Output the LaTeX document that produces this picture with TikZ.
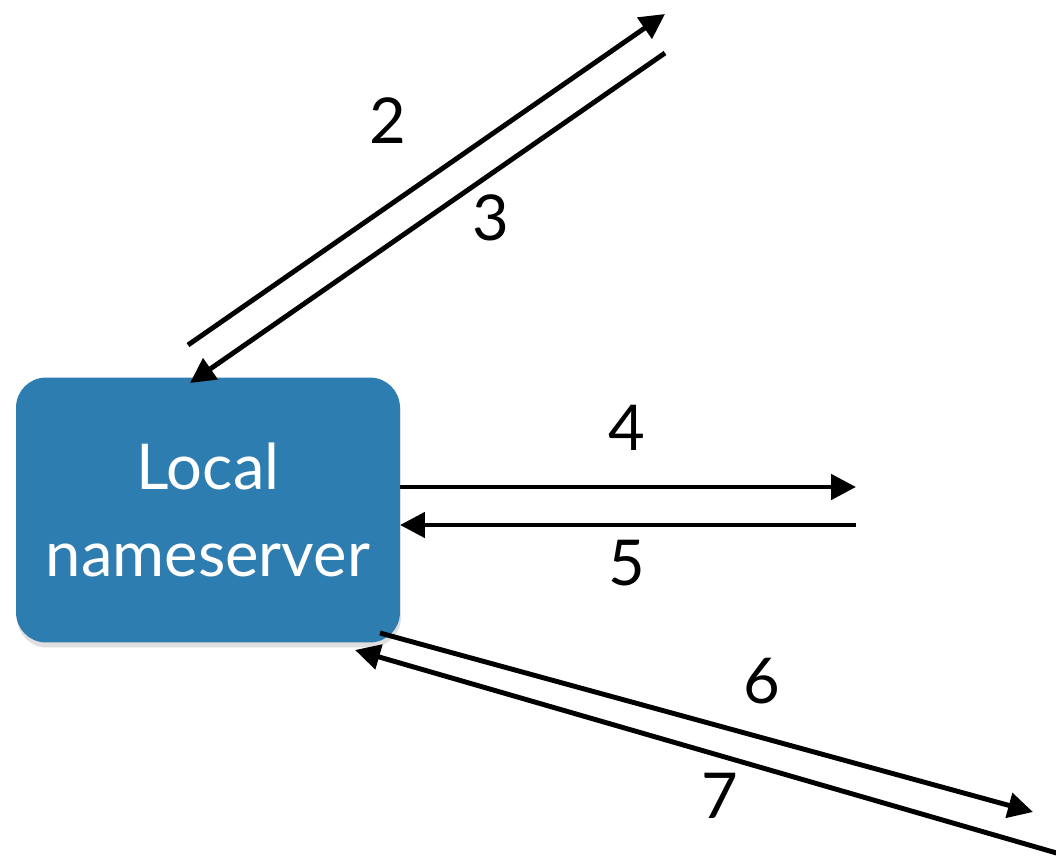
\documentclass[tikz,border=0pt]{standalone}
\usepackage{fontspec}
\setmainfont{Lato}
\usetikzlibrary{arrows.meta,positioning,shadows}
\definecolor{nsblue}{RGB}{46,125,176}

\begin{document}
\begin{tikzpicture}[x=0.02cm,y=-0.02cm]
  \tikzset{
    server/.style={rectangle, rounded corners=0.6cm, fill=nsblue, text=white,
      minimum width=7.68cm, minimum height=5.3cm, align=center,
      font=\fontsize{36}{49.5}\selectfont,
      drop shadow={shadow xshift=0.02cm, shadow yshift=-0.1cm, opacity=0.25}},
    msg/.style={line width=2.8pt, -{Triangle[length=0.5cm,width=0.5cm]}},
    num/.style={inner sep=0pt, font=\fontsize{36}{40}\selectfont},
  }

  % Fixed bounding box
  \path[use as bounding box] (0,0) rectangle (1056,858);

  % The local nameserver
  \node[server] (ns) at (208,510) {Local\\nameserver};

  % Free ends of the queries and replies
  \coordinate (rootOut) at (188,345);
  \coordinate (rootQ)   at (665,14);
  \coordinate (rootR)   at (665,53);
  \coordinate (rootIn)  at (190,383);
  \coordinate (tldOut)  at (400,487);
  \coordinate (tldQ)    at (856,487);
  \coordinate (tldR)    at (856,525);
  \coordinate (tldIn)   at (400,525);
  \coordinate (authOut) at (380,633);
  \coordinate (authQ)   at (1033,812);
  \coordinate (authR)   at (1060,854);
  \coordinate (authIn)  at (355,650);

  % Query and reply pairs
  \draw[msg] (rootOut) -- (rootQ);
  \draw[msg] (rootR) -- (rootIn);
  \draw[msg] (tldOut) -- (tldQ);
  \draw[msg] (tldR) -- (tldIn);
  \draw[msg] (authOut) -- (authQ);
  \draw[msg] (authR) -- (authIn);

  % Step numbers
  \node[num] (n2) at (388,121) {2};
  \node[num] (n3) at (491,218) {3};
  \node[num] (n4) at (627,428) {4};
  \node[num] (n5) at (627,563) {5};
  \node[num] (n6) at (762,681) {6};
  \node[num] (n7) at (720,796) {7};
\end{tikzpicture}
\end{document}
